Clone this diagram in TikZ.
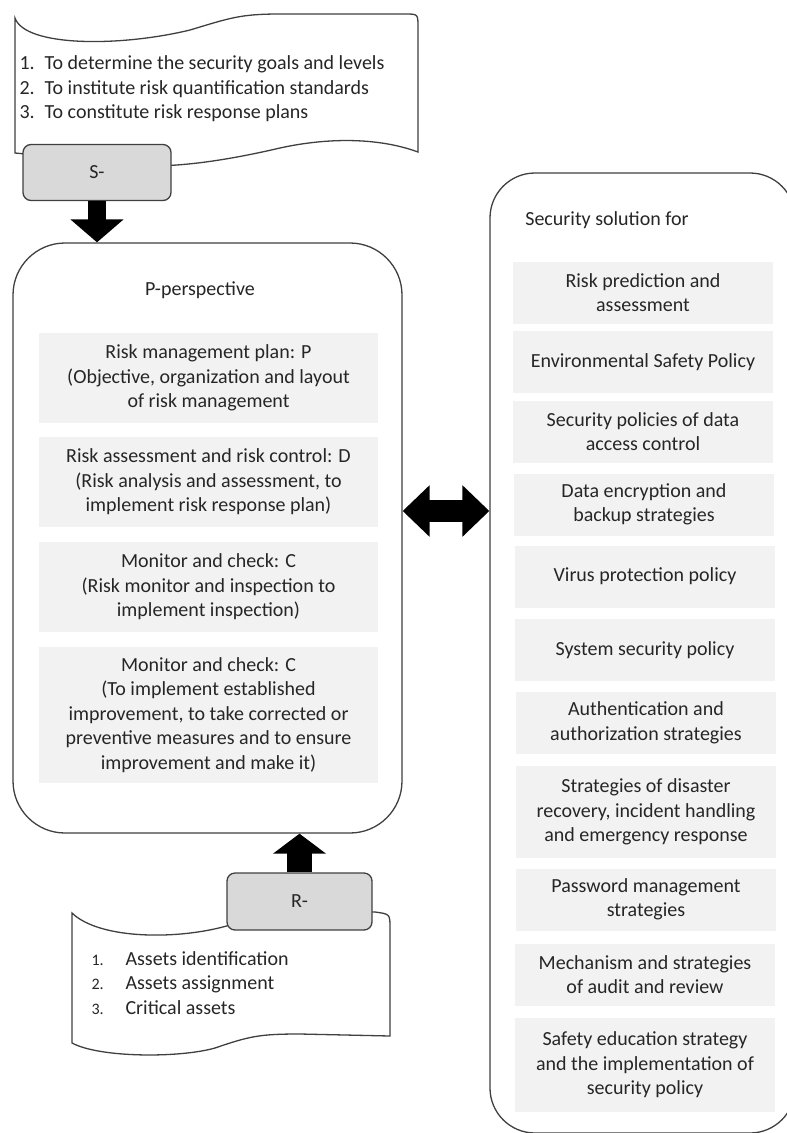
\documentclass[tikz,border=0pt]{standalone}
\usepackage{fontspec}
\setmainfont{Carlito}
\usetikzlibrary{arrows.meta}

\definecolor{linegray}{HTML}{404040}
\definecolor{tabgray}{HTML}{D9D9D9}
\definecolor{itemgray}{HTML}{F2F2F2}
\definecolor{textgray}{HTML}{262626}

\newcommand{\listnum}[1]{\makebox[34pt][l]{\fontsize{16}{24.5}\selectfont #1}}

\tikzset{
  every node/.style={font=\fontsize{20}{24.5}\selectfont, text=textgray},
  frame/.style={draw=linegray, line width=1.3pt, fill=white, inner sep=0pt},
  tabbox/.style={draw=linegray, line width=1.3pt, fill=tabgray, rounded corners=8pt,
    minimum width=148pt, minimum height=56pt, inner sep=0pt},
  pitem/.style={fill=itemgray, minimum width=339pt, minimum height=90pt, align=center, inner sep=0pt},
  sitem/.style={fill=itemgray, minimum width=260pt, minimum height=62pt, align=center, inner sep=0pt},
  scroll/.style={draw=linegray, line width=1.3pt, fill=white},
}

\begin{document}
\begin{tikzpicture}[x=1pt,y=-1pt]
\useasboundingbox (0,0) rectangle (787,1133);

% top scroll
\draw[scroll] (15,18) .. controls (25,47) and (120,47) .. (190,30) .. controls (230,18) and (240,14) .. (280,14) -- (405,14) .. controls (418,14) .. (418,27) -- (418,152) .. controls (380,138) and (330,137) .. (280,148) .. controls (220,162) and (180,166) .. (150,166) -- (15,153) -- cycle;
\node[anchor=west, align=left] (goals) at (16,89) {1.\enspace To determine the security goals and levels\\2.\enspace To institute risk quantification standards\\3.\enspace To constitute risk response plans};
\node[tabbox] (S) at (97,172.5) {S-};

% bottom scroll
\draw[scroll] (72,913) -- (72,1043) .. controls (100,1058) and (180,1058) .. (215,1048) .. controls (250,1036) and (260,1034) .. (300,1034) -- (390,1036) -- (390,928) .. controls (390,914) .. (375,912) -- (300,912) -- (230,925) .. controls (180,940) and (100,940) .. (72,913) -- cycle;
\node[tabbox, minimum width=145pt, minimum height=57pt] (R) at (299.5,901.5) {R-};
\node[anchor=west, align=left] (assets) at (88,983) {\listnum{1.}Assets identification\\\listnum{2.}Assets assignment\\\listnum{3.}Critical assets};

% P-perspective
\node[frame, rounded corners=52pt, minimum width=389pt, minimum height=590pt] (P) at (207.5,538) {};
\node (Ptitle) at (200,290) {P-perspective};
\node[pitem] (plan) at (208.5,378) {Risk management plan: P\\(Objective, organization and layout\\of risk management};
\node[pitem] (do) at (208.5,482) {Risk assessment and risk control: D\\(Risk analysis and assessment, to\\implement risk response plan)};
\node[pitem] (check) at (208.5,587) {Monitor and check: C\\(Risk monitor and inspection to\\implement inspection)};
\node[pitem, minimum height=136pt] (act) at (208.5,715) {Monitor and check: C\\(To implement established\\improvement, to take corrected or\\preventive measures and to ensure\\improvement and make it)};

% security solutions
\node[frame, rounded corners=45pt, minimum width=305pt, minimum height=960pt] (sol) at (642.5,653) {};
\node (soltitle) at (607,220) {Security solution for};
\node[sitem] (s1) at (643,292.5) {Risk prediction and\\assessment};
\node[sitem] (s2) at (643,362) {Environmental Safety Policy};
\node[sitem] (s3) at (643,431.5) {Security policies of data\\access control};
\node[sitem] (s4) at (644,504.5) {Data encryption and\\backup strategies};
\node[sitem] (s5) at (645,576.5) {Virus protection policy};
\node[sitem] (s6) at (645,650) {System security policy};
\node[sitem] (s7) at (646,723) {Authentication and\\authorization strategies};
\node[sitem, minimum height=92pt] (s8) at (646,812) {Strategies of disaster\\recovery, incident handling\\and emergency response};
\node[sitem] (s9) at (646,899.5) {Password management\\strategies};
\node[sitem] (s10) at (645,974.5) {Mechanism and strategies\\of audit and review};
\node[sitem, minimum height=94pt] (s11) at (645,1065) {Safety education strategy\\and the implementation of\\security policy};

% block arrows
\draw[line width=18pt, -{Triangle[width=52pt,length=23pt]}] (S.south) -- (S.south |- P.north);
\draw[line width=25pt, -{Triangle[width=52pt,length=20pt]}] (R.north) -- (R.north |- P.south);
\coordinate (mid) at (446,511);
\draw[line width=22pt, {Triangle[width=50pt,length=27pt]}-{Triangle[width=50pt,length=27pt]}] (P.east |- mid) -- (sol.west |- mid);
\end{tikzpicture}
\end{document}
